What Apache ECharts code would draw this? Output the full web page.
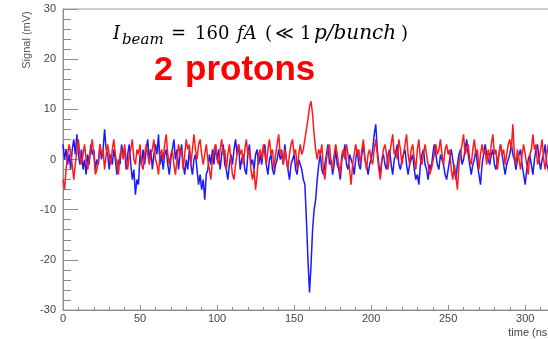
<!DOCTYPE html>
<html>
<head>
<meta charset="utf-8">
<script src="https://cdn.jsdelivr.net/npm/echarts@6/dist/echarts.min.js"></script>
<style>html,body{margin:0;padding:0;background:#fff}#c{width:548px;height:339px}</style>
</head>
<body>
<div id="c"></div>
<script>
// sampling step (ns)
const stepNs = 1;
// blue trace (mV), one value per ns from 0 to 320
const blueSignal = [
 3, 0, 2, -1, 1, -2, 2, 4, 1, 5,
 1, -1, 2, -2, 0, -3, 1, -1, 3, 1,
 2, -2, 0, -1, 3, 0, 2, 6, 2, 1,
 -2, 1, -1, 2, 0, -3, 0, -1, 3, 1,
 2, -2, 1, 3, -1, -4, -2, -7, -4, -5,
 1, -1, 2, -1, 2, 4, 0, 2, -2, 1,
 3, 1, 5, -1, 1, -2, 1, 2, -1, -3,
 0, 2, 4, 0, 2, -2, 1, 3, -1, -3,
 0, -2, 2, -1, -3, 0, 1, -2, -5, -3,
 -6, -4, -8, -3, -2, 1, -1, 2, -1, 3,
 0, 2, -2, 1, 3, -1, -2, -4, -1, 1,
 -1, 2, 4, 1, 3, -2, 0, 1, -2, -3,
 1, 3, -1, 0, -2, 1, 2, -1, 1, -1,
 2, 3, -1, -3, 0, 1, -2, -3, -1, 0,
 2, 0, 1, -1, 3, 0, -2, -4, -1, 0,
 1, -2, -3, 0, -1, -2, -4, -5, -12, -20,
 -26.5, -21, -14, -10, -8, -4, -1, 1, -2, -3,
 -1, 1, 3, -1, 0, -3, -1, 2, -1, -2,
 -4, 0, 1, 3, -1, -2, 1, 0, -1, -3,
 0, 2, -1, -2, 1, 3, 0, -1, -3, -1,
 0, 2, 5, 7, 2, -1, -3, 0, 1, -1,
 -2, 1, 2, -1, -3, 0, 1, 3, -1, -2,
 0, 1, 2, -1, -3, -1, 0, 1, -2, -4,
 -3, -5, -1, 1, 2, -1, -2, -4, -1, -2,
 1, 3, 1, -1, -2, 1, 0, -1, -3, -4,
 -2, 0, 2, 0, -2, -4, -1, 1, 2, -1,
 0, 2, 4, 1, -1, -3, -1, 0, 2, -1,
 -3, -5, -1, 1, 3, 1, 0, -1, 1, 2,
 -1, -2, 0, 1, 3, 1, -1, -3, -1, 0,
 1, 3, 1, 0, -2, 0, 1, 2, -1, -3,
 -5, -2, 0, 1, -1, -3, 0, 2, 3, 0,
 -2, 0, 1, 3, -1, -2, -4, -1, 2, 1,
 -1
];
// red trace (mV), one value per ns from 0 to 320
const redSignal = [
 -4, -6, -2, 1, 3, 1, -1, -4, -1, 2,
 4, 1, -1, 1, 3, 0, -2, 0, 2, 4,
 1, -3, -2, 0, 3, 1, 2, -2, 1, 3,
 1, -1, 2, 4, 1, -1, -3, 1, 2, 0,
 3, 0, -2, 1, 2, 4, 0, -1, 2, 1,
 3, -1, -2, 1, 3, 1, -1, 1, 2, 4,
 0, -1, -3, 1, 2, 0, 3, 5, 1, -1,
 1, 2, -1, -3, 0, 3, 1, 2, -2, 1,
 4, 2, 3, -1, 2, 5, 2, 0, 3, 4,
 1, -1, 1, 3, 0, -2, -4, 0, 2, 3,
 0, -1, 2, 4, 1, 2, -2, 1, 3, 0,
 -3, -4, -1, 1, 3, 1, 2, -1, 2, 4,
 1, 2, -2, -4, -2, -6, -3, 1, 2, 0,
 3, 1, -1, 2, 4, 1, 2, -2, 1, 3,
 5, 1, 2, -1, 2, 0, -2, 1, 3, 4,
 1, 2, -2, 1, 3, 1, 2, 4, 6, 8,
 10.5, 11.6, 9, 5, 2, 0, 2, 1, 3, -2,
 -4, 0, 2, 3, -1, -2, 1, 3, 1, -1,
 -3, 1, 2, 0, 3, 1, -2, -5, -1, 1,
 3, 1, 2, -1, 2, 4, 0, -2, 1, 2,
 0, -1, 2, 4, 1, -2, -4, 0, 2, 3,
 1, -2, 1, 3, 5, 1, 2, 0, 4, 2,
 -1, 1, 3, 5, 1, -1, 2, 3, 0, -2,
 2, 4, 0, -1, 1, 3, 1, -1, -3, -2,
 -2, 1, 3, 1, 2, 4, 1, -1, 2, 3,
 1, 2, -2, -4, -1, -3, -6, -1, 1, 3,
 5, 1, 2, 3, 0, -1, 2, 4, 1, 2,
 -2, 1, 3, 1, 2, -1, 2, 0, 3, 5,
 1, 2, -2, 1, 3, 1, 2, -1, 1, 3,
 4, 2, 7, 1, -1, 2, 0, -2, 1, 3,
 1, -1, -3, 1, 2, 5, 2, 3, -1, 0,
 2, 4, 0, -2, 1, 3, 1, -1, 2, 3,
 1
];
const xTicks = [0, 50, 100, 150, 200, 250, 300];
const yTicks = [-30, -20, -10, 0, 10, 20, 30];

const toPairs = arr => arr.map((v, i) => [i * stepNs, v]);
const axisGrey = '#8c8c8c';
const labelFont = {fontFamily: 'Liberation Sans', fontSize: 11, color: '#444'};
const mathN = {font: '18px "DejaVu Serif"', fill: '#000', verticalAlign: 'bottom'};
const mathI = {font: 'italic 18px "DejaVu Serif"', fill: '#000', verticalAlign: 'bottom'};
const mtxt = (x, y, text, st) => ({type: 'text', x, y, style: Object.assign({text}, st)});
const base = 43;

const chart = echarts.init(document.getElementById('c'), null, {renderer: 'canvas'});
chart.setOption({
  animation: false,
  backgroundColor: '#fff',
  grid: {left: 63, top: 9, width: 493, height: 301, containLabel: false, outerBoundsMode: 'none',
    show: true, borderColor: '#a0a0a0', borderWidth: 1},
  xAxis: {
    type: 'value', min: 0, max: 320, interval: 50,
    name: 'time (ns)', nameLocation: 'end', nameGap: -5,
    nameTextStyle: Object.assign({align: 'right', verticalAlign: 'top', padding: [17, 0, 0, 0]}, labelFont),
    axisLine: {onZero: false, lineStyle: {color: axisGrey}},
    axisTick: {inside: true, length: 5, lineStyle: {color: axisGrey}},
    minorTick: {show: true, splitNumber: 5, length: 3, lineStyle: {color: axisGrey}},
    splitLine: {show: false},
    axisLabel: Object.assign({margin: 3, formatter: v => xTicks.includes(v) ? String(v) : ''}, labelFont)
  },
  yAxis: {
    type: 'value', min: -30, max: 30, interval: 10,
    axisLine: {show: true, onZero: false, lineStyle: {color: axisGrey}},
    axisTick: {show: true, inside: true, length: 15, lineStyle: {color: axisGrey}},
    minorTick: {show: true, splitNumber: 5, length: 8, lineStyle: {color: axisGrey}},
    splitLine: {show: false},
    axisLabel: Object.assign({margin: 7, formatter: v => yTicks.includes(v) ? String(v) : ''}, labelFont)
  },
  series: [
    {type: 'line', data: toPairs(blueSignal), showSymbol: false, symbol: 'none', lineStyle: {color: '#1a1aff', width: 1.5}, z: 2},
    {type: 'line', data: toPairs(redSignal), showSymbol: false, symbol: 'none', lineStyle: {color: '#ff1a1a', width: 1.5}, z: 3}
  ],
  graphic: [
    {type: 'text', x: 27, y: 40, rotation: Math.PI / 2,
      style: {text: 'Signal (mV)', fontFamily: 'Liberation Sans', fontSize: 11, fill: '#555', align: 'center', verticalAlign: 'middle'}},
    mtxt(113, base, 'I', mathI),
    mtxt(122, base + 5, 'beam', {font: 'italic 15px "DejaVu Serif"', fill: '#000', verticalAlign: 'bottom'}),
    mtxt(171, base, '=', mathN),
    mtxt(195, base, '160', mathN),
    mtxt(237, base, 'fA', mathI),
    mtxt(265, base, '(', mathN),
    mtxt(275, base, '≪', mathN),
    mtxt(300, base, '1', mathN),
    mtxt(314, base + 1, 'p/bunch', {font: 'italic 20px "DejaVu Serif"', fill: '#000', verticalAlign: 'bottom'}),
    mtxt(401, base, ')', mathN),
    mtxt(154, 88, '2', {font: 'bold 34px "Liberation Sans"', fill: '#ff0000', verticalAlign: 'bottom'}),
    mtxt(185, 88, 'protons', {font: 'bold 35px "Liberation Sans"', fill: '#ff0000', verticalAlign: 'bottom'})
  ]
});
</script>
</body>
</html>
